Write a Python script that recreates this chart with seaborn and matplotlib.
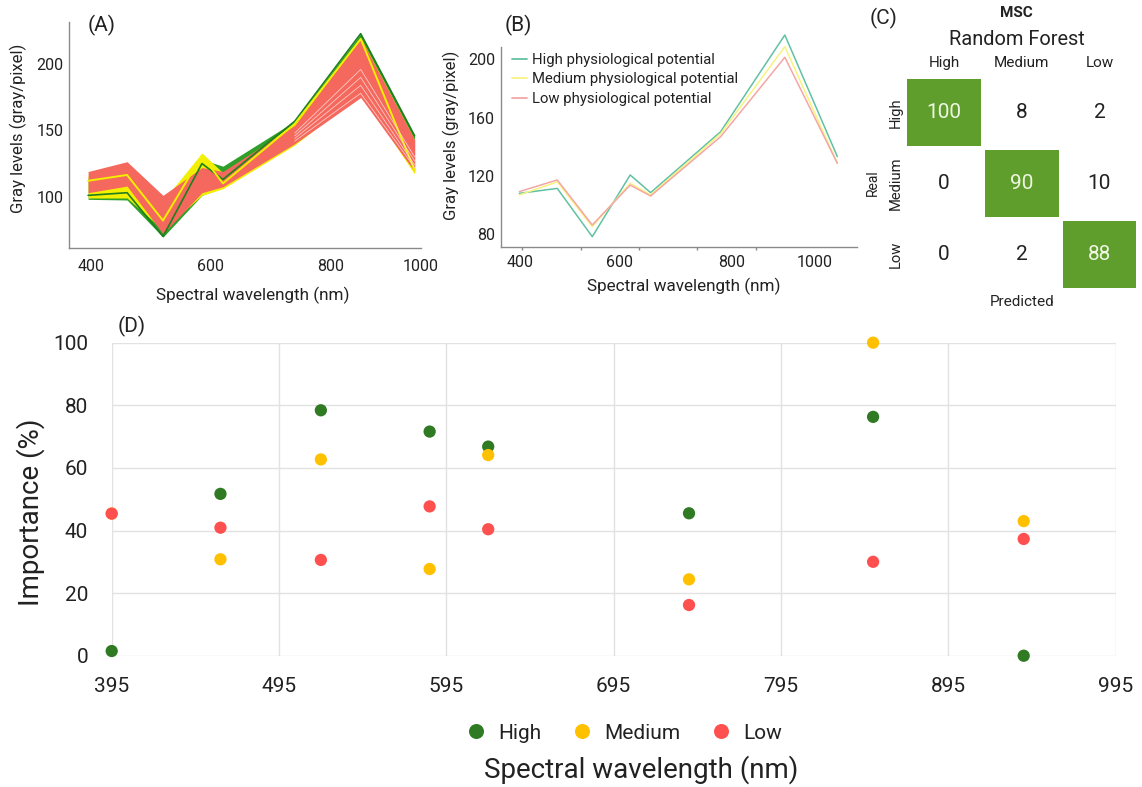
import numpy as np
import pandas as pd
import matplotlib
matplotlib.use("Agg")
import matplotlib.pyplot as plt
import seaborn as sns
from matplotlib.colors import ListedColormap, BoundaryNorm
from matplotlib.lines import Line2D
from matplotlib.ticker import FixedLocator

# ---------------- data ----------------
wavelengths = [395, 460, 520, 585, 620, 740, 850, 940]

# Panel A: spectral band envelopes per class (gray levels)
a_high_upper = [114, 112, 95, 128, 123, 157, 223, 146]
a_high_lower = [98, 97.5, 69.5, 101, 107, 140, 180, 120]
a_med_upper = [116, 120, 97, 133, 118, 155, 220, 143]
a_med_lower = [99, 99, 75, 101, 106, 139, 178, 117]
a_low_upper = [119, 126.4, 101, 122, 119, 154, 219.5, 143]
a_low_lower = [103, 108, 72, 103, 107.5, 140, 174.8, 119]
a_high_line = [101, 103, 70, 125, 113, 157, 223, 146]
a_med_line = [112, 116.4, 82, 131, 110, 155, 219, 120]
a_low_streak_1 = [None, None, None, None, None, 142, 178, 122]
a_low_streak_2 = [None, None, None, None, None, 144, 184, 124]
a_low_streak_3 = [None, None, None, None, None, 146, 190, 127]
a_low_streak_4 = [None, None, None, None, None, 148, 196, 130]

# Panel B: mean spectra
b_high = [108.1, 111.5, 78.4, 120.7, 108.6, 150.4, 216.7, 133.3]
b_medium = [107.0, 116.0, 85.3, 115.0, 107.0, 149.0, 208.7, 128.7]
b_low = [109.3, 117.3, 86.4, 113.8, 106.3, 147.0, 201.4, 128.7]
b_labels = ["High physiological potential", "Medium physiological potential",
            "Low physiological potential"]

# Panel C: confusion matrix
c_classes = ["High", "Medium", "Low"]
c_matrix = [[100, 8, 2],
            [0, 90, 10],
            [0, 2, 88]]

# Panel D: importance
d_classes = ["High", "Medium", "Low"]
d_high = [1.5, 51.7, 78.4, 71.6, 66.8, 45.5, 76.3, 0.0]
d_medium = [45.4, 30.8, 62.7, 27.7, 64.1, 24.4, 100.0, 43.0]
d_low = [45.4, 40.9, 30.6, 47.7, 40.4, 16.2, 30.0, 37.3]

# tick labels
a_xtick_pos = [400, 600, 800, 950]
a_xtick_lab = ["400", "600", "800", "1000"]
a_yticks = [100, 150, 200]
b_xtick_pos = [396, 566, 758, 902]
b_xtick_lab = ["400", "600", "800", "1000"]
b_yticks = [80, 120, 160, 200]
d_xticks = [395, 495, 595, 695, 795, 895, 995]
d_yticks = [0, 20, 40, 60, 80, 100]

# ---------------- style ----------------
sns.set_theme(style="white")
plt.rcParams["font.family"] = ["Roboto", "DejaVu Sans"]
TXT = "#222222"

fig = plt.figure(figsize=(11.42, 7.87), dpi=100)

# ---------------- Panel A ----------------
axA = fig.add_axes([0.0607, 0.6849, 0.3076, 0.2875])
A_GREEN, A_YEL, A_RED = "#2ea02a", "#f2f000", "#f5685d"
axA.fill_between(wavelengths, a_high_lower, a_high_upper, color=A_GREEN, lw=0)
axA.fill_between(wavelengths, a_med_lower, a_med_upper, color=A_YEL, lw=0)
axA.fill_between(wavelengths, a_low_lower, a_low_upper, color=A_RED, lw=0)
dfA = pd.DataFrame({"wl": wavelengths, "high": a_high_line, "med": a_med_line})
sns.lineplot(data=dfA, x="wl", y="high", color="#1f7f1f", lw=1.2, ax=axA)
sns.lineplot(data=dfA, x="wl", y="med", color=A_YEL, lw=1.4, ax=axA)
for s in [a_low_streak_1, a_low_streak_2, a_low_streak_3, a_low_streak_4]:
    y = np.array([np.nan if v is None else v for v in s], dtype=float)
    axA.plot(wavelengths, y, color="#ffe3df", lw=0.6, alpha=0.8)
axA.set_xlim(363.6, 950)
axA.set_ylim(61.3, 232)
axA.set_xticks(a_xtick_pos)
axA.set_xticklabels(a_xtick_lab)
axA.set_yticks(a_yticks)
axA.set_xlabel("")
axA.set_ylabel("")
for sp in ["top", "right"]:
    axA.spines[sp].set_visible(False)
for sp in ["left", "bottom"]:
    axA.spines[sp].set_color("#8a8a8a")
    axA.spines[sp].set_linewidth(1.0)
axA.tick_params(axis="x", length=2, color="#8a8a8a", labelsize=11.5, labelcolor=TXT, pad=6)
axA.tick_params(axis="y", length=0, labelsize=11.5, labelcolor=TXT, pad=4)
fig.text(0.0158, 0.837, "Gray levels (gray/pixel)", rotation=90, ha="center", va="center",
         fontsize=12, color=TXT)
fig.text(0.2215, 0.6252, "Spectral wavelength (nm)", ha="center", va="center",
         fontsize=12.3, color=TXT)
fig.text(0.0893, 0.9682, "(A)", ha="center", va="center", fontsize=15, color=TXT)

# ---------------- Panel B ----------------
axB = fig.add_axes([0.4384, 0.6865, 0.3117, 0.2542])
B_COLS = ["#62c0a4", "#f6f37e", "#f4a6a6"]
dfB = pd.DataFrame({
    "wl": wavelengths * 3,
    "gray": b_high + b_medium + b_low,
    "cls": [b_labels[0]] * 8 + [b_labels[1]] * 8 + [b_labels[2]] * 8,
})
sns.lineplot(data=dfB, x="wl", y="gray", hue="cls", palette=B_COLS, lw=1.1,
             ax=axB, legend=False, clip_on=False)
axB.set_xlim(363, 973)
axB.set_ylim(71.5, 208.7)
axB.xaxis.set_major_locator(FixedLocator(b_xtick_pos))
axB.set_xticklabels(b_xtick_lab)
axB.xaxis.set_minor_locator(FixedLocator([400, 500, 600, 700, 800]))
axB.set_yticks(b_yticks)
axB.set_xlabel("")
axB.set_ylabel("")
for sp in ["top", "right"]:
    axB.spines[sp].set_visible(False)
for sp in ["left", "bottom"]:
    axB.spines[sp].set_color("#8a8a8a")
    axB.spines[sp].set_linewidth(1.0)
axB.tick_params(axis="x", which="major", length=0, labelsize=11.5, labelcolor=TXT, pad=6)
axB.tick_params(axis="x", which="minor", length=2, color="#8a8a8a", bottom=True)
axB.tick_params(axis="y", length=0, labelsize=11.5, labelcolor=TXT, pad=4)
handlesB = [Line2D([], [], color=c, lw=1.3) for c in B_COLS]
fig.legend(handlesB, b_labels, loc="upper left", bbox_to_anchor=(0.4483, 0.9330),
           frameon=False, fontsize=10.7, handlelength=1.0, handletextpad=0.35,
           labelspacing=0.38, borderaxespad=0, borderpad=0, labelcolor=TXT)
fig.text(0.3955, 0.8285, "Gray levels (gray/pixel)", rotation=90, ha="center", va="center",
         fontsize=12, color=TXT)
fig.text(0.599, 0.6357, "Spectral wavelength (nm)", ha="center", va="center",
         fontsize=12.3, color=TXT)
fig.text(0.4536, 0.9682, "(B)", ha="center", va="center", fontsize=15, color=TXT)

# ---------------- Panel C ----------------
axC = fig.add_axes([0.7925, 0.6315, 0.2043, 0.2703])
cmapC = ListedColormap(["white", "#5f9e2d"])
normC = BoundaryNorm([0, 50, 101], 2)
dfC = pd.DataFrame(c_matrix, index=c_classes, columns=c_classes)
sns.heatmap(dfC, cmap=cmapC, norm=normC, annot=True, fmt="d", cbar=False,
            linewidths=1.5, linecolor="white", annot_kws={"fontsize": 15}, ax=axC)
for t in axC.texts:
    if int(t.get_text()) >= 50:
        t.set_color("#eef6e2")
    else:
        t.set_color(TXT)
axC.xaxis.tick_top()
axC.set_xticklabels(c_classes, rotation=0, fontsize=11, color=TXT)
axC.set_yticklabels(c_classes, rotation=90, va="center", fontsize=10.6, color=TXT)
axC.tick_params(axis="x", length=0, pad=5)
axC.tick_params(axis="y", length=0, pad=2)
axC.set_xlabel("")
axC.set_ylabel("")
fig.text(0.8903, 0.9831, "MSC", ha="center", va="center", fontsize=11, fontweight="bold", color=TXT)
fig.text(0.8903, 0.950, "Random Forest", ha="center", va="center", fontsize=14.4, color=TXT)
fig.text(0.8946, 0.6166, "Predicted", ha="center", va="center", fontsize=11, color=TXT)
fig.text(0.7647, 0.7675, "Real", rotation=90, ha="center", va="center", fontsize=10, color=TXT)
fig.text(0.7735, 0.9767, "(C)", ha="center", va="center", fontsize=15, color=TXT)

# ---------------- Panel D ----------------
axD = fig.add_axes([0.0978, 0.1668, 0.8792, 0.3978])
D_COLS = ["#2f7a22", "#ffc000", "#ff5050"]
dfD = pd.DataFrame({
    "wl": wavelengths * 3,
    "imp": d_high + d_medium + d_low,
    "cls": [d_classes[0]] * 8 + [d_classes[1]] * 8 + [d_classes[2]] * 8,
})
sns.scatterplot(data=dfD, x="wl", y="imp", hue="cls", palette=D_COLS, s=78,
                edgecolor="none", linewidth=0, ax=axD, legend=False, clip_on=False, zorder=3)
axD.set_xlim(395, 995)
axD.set_ylim(0, 100)
axD.set_xticks(d_xticks)
axD.set_yticks(d_yticks)
axD.grid(True, color="#e2e2e2", lw=1.0)
axD.set_axisbelow(True)
for sp in axD.spines.values():
    sp.set_visible(False)
axD.tick_params(axis="both", length=0, labelsize=15, labelcolor=TXT)
axD.tick_params(axis="x", pad=15)
axD.tick_params(axis="y", pad=17)
axD.set_xlabel("")
axD.set_ylabel("")
handlesD = [Line2D([], [], marker="o", ls="", color=c, markersize=10.8, markeredgewidth=0)
            for c in D_COLS]
fig.legend(handlesD, d_classes, ncol=3, loc="center", bbox_to_anchor=(0.5464, 0.0686),
           frameon=False, fontsize=15, handlelength=1.0, handletextpad=0.56,
           columnspacing=1.47, labelcolor=TXT)
fig.text(0.5613, 0.0216, "Spectral wavelength (nm)", ha="center", va="center",
         fontsize=20, color=TXT)
fig.text(0.0268, 0.3494, "Importance (%)", rotation=90, ha="center", va="center",
         fontsize=20, color=TXT)
fig.text(0.1153, 0.5849, "(D)", ha="center", va="center", fontsize=15, color=TXT,
         bbox=dict(facecolor="white", edgecolor="none", pad=3))

fig.savefig("out.png", dpi=100, facecolor="white")
